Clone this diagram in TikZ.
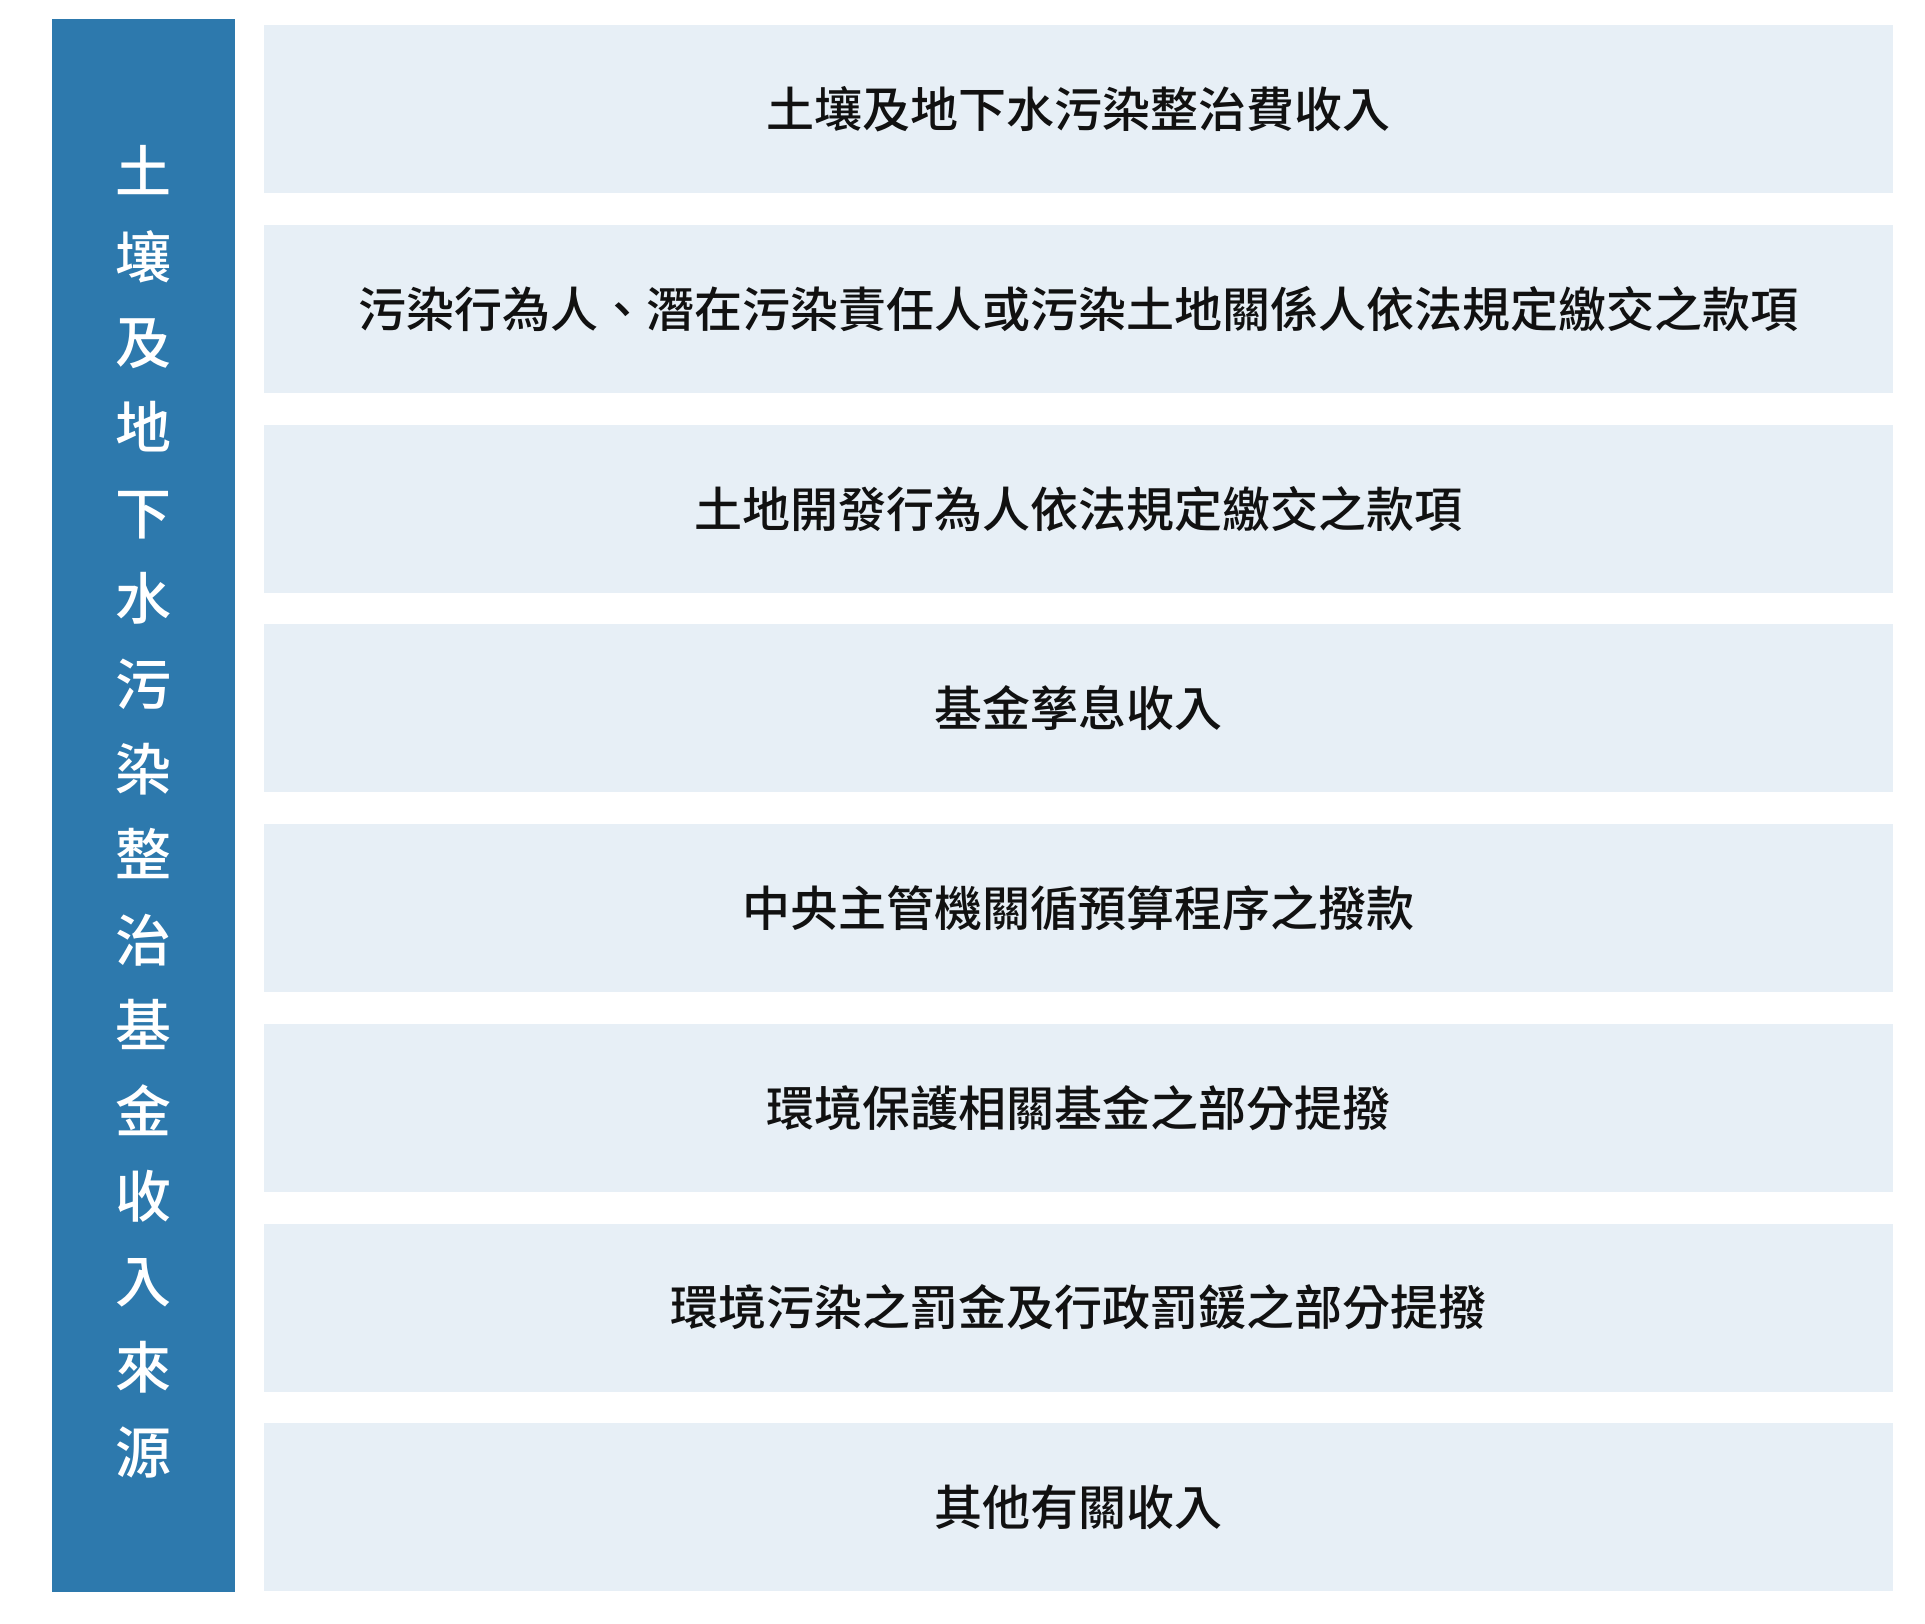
\documentclass[tikz,border=0pt]{standalone}
\usepackage{fontspec}
\newfontfamily\cjk{Noto Sans CJK TC Medium}
\definecolor{sideblue}{RGB}{45,121,173}
\definecolor{boxfill}{RGB}{231,239,246}
\definecolor{ink}{RGB}{17,17,17}
\tikzset{
  itembox/.style={fill=boxfill, draw=none, minimum width=1629pt, minimum height=168pt, inner sep=0pt, anchor=north west,
    font=\cjk\fontsize{48}{50}\selectfont, text=ink},
  sidebox/.style={fill=sideblue, draw=none, minimum width=183pt, minimum height=1573pt, inner sep=0pt, anchor=north west},
  sidetext/.style={text=white, align=center, inner sep=0pt, font=\cjk\fontsize{56}{85.4}\selectfont}
}
\begin{document}
\begin{tikzpicture}[x=1pt,y=-1pt]
\useasboundingbox (0,0) rectangle (1925,1623);
\node[sidebox] (side) at (52,19) {};
\node[sidetext] (sidelabel) at (143.5,812) {土\\壤\\及\\地\\下\\水\\污\\染\\整\\治\\基\\金\\收\\入\\來\\源};
\node[itembox] (b1) at (264,25) {土壤及地下水污染整治費收入};
\node[itembox] (b2) at (264,224.7) {污染行為人、潛在污染責任人或污染土地關係人依法規定繳交之款項};
\node[itembox] (b3) at (264,424.4) {土地開發行為人依法規定繳交之款項};
\node[itembox] (b4) at (264,624.1) {基金孳息收入};
\node[itembox] (b5) at (264,823.9) {中央主管機關循預算程序之撥款};
\node[itembox] (b6) at (264,1023.6) {環境保護相關基金之部分提撥};
\node[itembox] (b7) at (264,1223.3) {環境污染之罰金及行政罰鍰之部分提撥};
\node[itembox] (b8) at (264,1423) {其他有關收入};
\end{tikzpicture}
\end{document}
